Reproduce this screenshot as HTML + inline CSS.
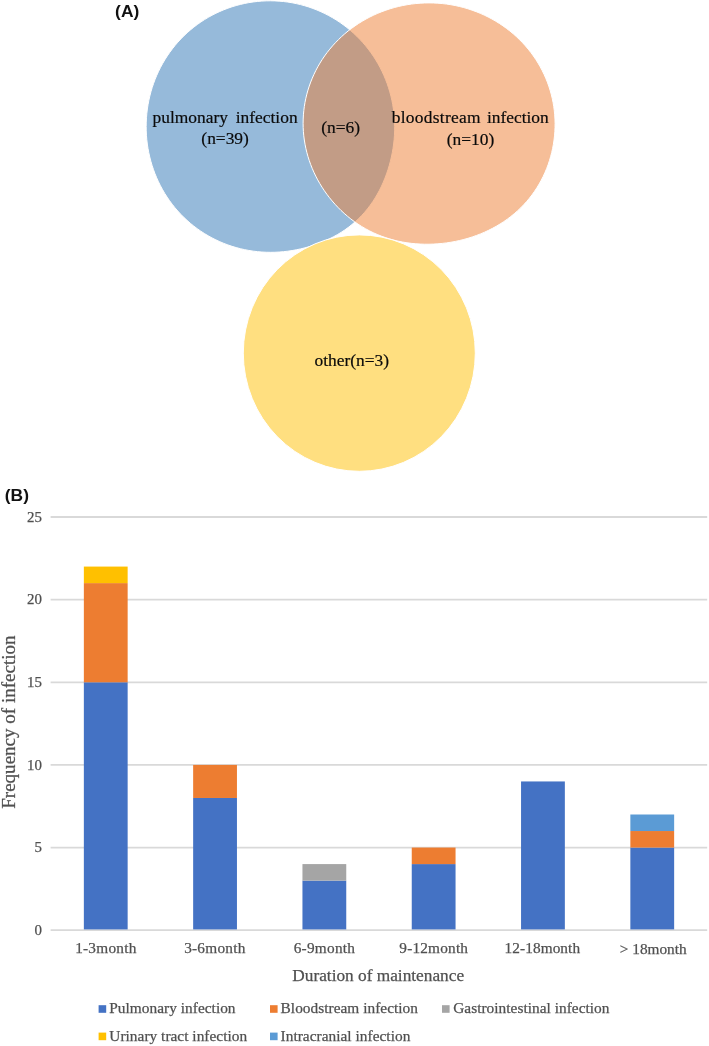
<!DOCTYPE html>
<html lang="en"><head><meta charset="utf-8"><title>Figure</title>
<style>
html,body{margin:0;padding:0;background:#fff;}
svg{display:block;}
text{font-family:"Liberation Serif","Times New Roman",serif;}
.lab{font-family:"Liberation Sans",Arial,sans-serif;font-weight:bold;font-size:17.4px;fill:#111;}
.venn{font-size:17.4px;fill:#0a0a0a;stroke:#0a0a0a;stroke-width:0.2px;word-spacing:3.5px;}
.tick{font-size:15.3px;fill:#505050;stroke:#505050;stroke-width:0.25px;}
.cat{letter-spacing:0.25px;}
.leg{font-size:15.35px;fill:#505050;stroke:#505050;stroke-width:0.25px;letter-spacing:0.03px;}
</style></head><body>
<svg width="709" height="1046" viewBox="0 0 709 1046">
<rect width="709" height="1046" fill="#fff"/>

<path d="M394.68,126.50 L394.63,130.89 L394.44,135.27 L394.11,139.65 L393.63,144.01 L393.02,148.36 L392.27,152.70 L391.39,157.00 L390.38,161.29 L389.23,165.54 L387.94,169.76 L386.53,173.94 L384.98,178.08 L383.29,182.17 L381.47,186.21 L379.50,190.18 L377.39,194.09 L375.13,197.91 L372.73,201.65 L370.17,205.30 L367.47,208.83 L364.63,212.26 L361.64,215.55 L358.51,218.72 L355.25,221.74 L351.87,224.62 L348.38,227.36 L344.77,229.94 L341.08,232.38 L337.29,234.67 L333.43,236.81 L329.51,238.80 L325.52,240.65 L321.48,242.36 L317.39,243.94 L313.25,245.38 L309.09,246.68 L304.88,247.85 L300.65,248.89 L296.39,249.79 L292.11,250.56 L287.82,251.19 L283.50,251.68 L279.17,252.04 L274.84,252.25 L270.50,252.32 L266.16,252.24 L261.83,252.02 L257.50,251.65 L253.19,251.13 L248.90,250.46 L244.64,249.65 L240.40,248.69 L236.19,247.58 L232.03,246.33 L227.91,244.93 L223.84,243.38 L219.82,241.69 L215.87,239.86 L211.98,237.89 L208.16,235.78 L204.41,233.53 L200.75,231.15 L197.17,228.64 L193.68,226.00 L190.29,223.24 L187.00,220.36 L183.81,217.35 L180.73,214.24 L177.76,211.01 L174.91,207.68 L172.18,204.24 L169.57,200.71 L167.09,197.09 L164.73,193.38 L162.52,189.60 L160.43,185.73 L158.48,181.79 L156.67,177.79 L155.00,173.73 L153.47,169.61 L152.08,165.44 L150.84,161.23 L149.74,156.97 L148.79,152.68 L147.98,148.36 L147.32,144.02 L146.81,139.66 L146.45,135.28 L146.23,130.89 L146.16,126.50 L146.24,122.11 L146.47,117.72 L146.85,113.35 L147.37,108.99 L148.04,104.65 L148.86,100.33 L149.82,96.05 L150.93,91.80 L152.18,87.59 L153.58,83.43 L155.11,79.32 L156.79,75.26 L158.61,71.27 L160.57,67.34 L162.66,63.49 L164.88,59.71 L167.24,56.01 L169.72,52.40 L172.33,48.88 L175.06,45.45 L177.91,42.12 L180.87,38.90 L183.95,35.79 L187.13,32.79 L190.41,29.91 L193.80,27.15 L197.28,24.51 L200.85,22.00 L204.51,19.61 L208.24,17.37 L212.05,15.25 L215.93,13.27 L219.88,11.44 L223.89,9.74 L227.95,8.19 L232.06,6.78 L236.22,5.52 L240.42,4.41 L244.65,3.44 L248.92,2.62 L253.21,1.96 L257.51,1.44 L261.83,1.08 L266.16,0.86 L270.50,0.80 L274.83,0.89 L279.16,1.13 L283.48,1.53 L287.78,2.07 L292.06,2.76 L296.31,3.61 L300.53,4.60 L304.71,5.74 L308.86,7.03 L312.95,8.46 L316.99,10.03 L320.98,11.75 L324.91,13.60 L328.76,15.60 L332.55,17.72 L336.27,19.98 L339.90,22.37 L343.45,24.89 L346.90,27.52 L350.27,30.28 L353.54,33.16 L356.71,36.15 L359.77,39.25 L362.72,42.46 L365.57,45.77 L368.29,49.17 L370.90,52.67 L373.38,56.27 L375.74,59.94 L377.97,63.70 L380.07,67.53 L382.04,71.44 L383.87,75.41 L385.56,79.45 L387.12,83.54 L388.53,87.69 L389.80,91.88 L390.92,96.11 L391.90,100.38 L392.73,104.69 L393.41,109.02 L393.95,113.37 L394.34,117.74 L394.58,122.11Z" fill="#2E75B6" fill-opacity="0.5" stroke="#fff" stroke-width="1"/>
<path d="M555.07,123.25 L555.03,127.46 L554.84,131.66 L554.51,135.86 L554.02,140.05 L553.40,144.22 L552.63,148.37 L551.71,152.50 L550.64,156.60 L549.43,160.67 L548.08,164.69 L546.58,168.67 L544.93,172.61 L543.14,176.49 L541.20,180.30 L539.12,184.05 L536.89,187.73 L534.52,191.32 L532.02,194.83 L529.37,198.25 L526.59,201.57 L523.68,204.78 L520.64,207.89 L517.48,210.88 L514.20,213.75 L510.82,216.51 L507.33,219.13 L503.74,221.63 L500.06,224.00 L496.30,226.24 L492.46,228.35 L488.54,230.33 L484.56,232.18 L480.52,233.89 L476.42,235.48 L472.27,236.93 L468.08,238.25 L463.85,239.44 L459.58,240.50 L455.27,241.43 L450.94,242.22 L446.59,242.89 L442.21,243.42 L437.82,243.82 L433.41,244.09 L429.00,244.22 L424.58,244.21 L420.16,244.06 L415.75,243.78 L411.35,243.35 L406.96,242.77 L402.60,242.04 L398.26,241.16 L393.95,240.13 L389.69,238.95 L385.48,237.61 L381.32,236.12 L377.22,234.47 L373.20,232.68 L369.24,230.73 L365.38,228.64 L361.60,226.41 L357.91,224.05 L354.31,221.56 L350.82,218.94 L347.44,216.20 L344.16,213.35 L340.99,210.40 L337.93,207.34 L334.98,204.19 L332.15,200.95 L329.43,197.62 L326.84,194.21 L324.36,190.73 L322.01,187.16 L319.78,183.53 L317.69,179.83 L315.72,176.07 L313.89,172.24 L312.19,168.36 L310.63,164.43 L309.22,160.45 L307.94,156.43 L306.82,152.37 L305.83,148.28 L305.00,144.15 L304.32,140.00 L303.78,135.83 L303.40,131.65 L303.17,127.45 L303.10,123.25 L303.18,119.05 L303.41,114.85 L303.79,110.67 L304.32,106.50 L305.01,102.35 L305.85,98.23 L306.84,94.13 L307.98,90.08 L309.26,86.06 L310.69,82.09 L312.27,78.17 L313.98,74.30 L315.84,70.49 L317.84,66.75 L319.97,63.07 L322.23,59.47 L324.62,55.95 L327.14,52.51 L329.79,49.16 L332.56,45.89 L335.44,42.72 L338.44,39.65 L341.54,36.68 L344.76,33.81 L348.07,31.06 L351.49,28.41 L355.00,25.88 L358.60,23.48 L362.28,21.19 L366.05,19.02 L369.89,16.99 L373.81,15.08 L377.79,13.30 L381.84,11.66 L385.94,10.16 L390.09,8.79 L394.30,7.56 L398.54,6.47 L402.82,5.53 L407.14,4.73 L411.48,4.07 L415.84,3.56 L420.22,3.19 L424.61,2.97 L429.00,2.90 L433.39,2.97 L437.78,3.19 L442.16,3.56 L446.52,4.07 L450.86,4.73 L455.18,5.53 L459.46,6.47 L463.70,7.56 L467.91,8.79 L472.06,10.16 L476.16,11.66 L480.21,13.30 L484.19,15.08 L488.11,16.99 L491.95,19.02 L495.72,21.19 L499.40,23.48 L503.00,25.88 L506.51,28.41 L509.93,31.06 L513.24,33.81 L516.46,36.68 L519.56,39.65 L522.56,42.72 L525.45,45.89 L528.21,49.15 L530.86,52.51 L533.38,55.95 L535.77,59.47 L538.03,63.07 L540.17,66.75 L542.16,70.49 L544.02,74.30 L545.74,78.16 L547.32,82.08 L548.75,86.05 L550.04,90.07 L551.19,94.13 L552.19,98.22 L553.04,102.34 L553.74,106.49 L554.29,110.66 L554.70,114.85 L554.96,119.05Z" fill="#ED7D31" fill-opacity="0.5" stroke="#fff" stroke-width="1"/>
<ellipse cx="359.3" cy="353.1" rx="116" ry="118.2" fill="#FFDF80" stroke="#fff" stroke-width="1"/>
<text class="lab" x="115.1" y="16.9">(A)</text>
<text class="venn" x="225.1" y="123" text-anchor="middle">pulmonary infection</text>
<text class="venn" x="225.1" y="144" text-anchor="middle">(n=39)</text>
<text class="venn" x="340.6" y="133.4" text-anchor="middle">(n=6)</text>
<text class="venn" style="word-spacing:1.6px" x="470.2" y="123" text-anchor="middle"><tspan style="letter-spacing:0.3px">bloodstream</tspan> infection</text>
<text class="venn" x="470.5" y="144.6" text-anchor="middle">(n=10)</text>
<text class="venn" x="351.8" y="366" text-anchor="middle">other(n=3)</text>
<text class="lab" x="4.8" y="500.6">(B)</text>
<line x1="50.6" x2="707.2" y1="930.20" y2="930.20" stroke="#D9D9D9" stroke-width="1.8"/>
<text class="tick" style="font-size:14.9px" x="41.9" y="934.90" text-anchor="end">0</text>
<line x1="50.6" x2="707.2" y1="847.56" y2="847.56" stroke="#D9D9D9" stroke-width="1.8"/>
<text class="tick" style="font-size:14.9px" x="41.9" y="852.26" text-anchor="end">5</text>
<line x1="50.6" x2="707.2" y1="764.92" y2="764.92" stroke="#D9D9D9" stroke-width="1.8"/>
<text class="tick" style="font-size:14.9px" x="41.9" y="769.62" text-anchor="end">10</text>
<line x1="50.6" x2="707.2" y1="682.28" y2="682.28" stroke="#D9D9D9" stroke-width="1.8"/>
<text class="tick" style="font-size:14.9px" x="41.9" y="686.98" text-anchor="end">15</text>
<line x1="50.6" x2="707.2" y1="599.64" y2="599.64" stroke="#D9D9D9" stroke-width="1.8"/>
<text class="tick" style="font-size:14.9px" x="41.9" y="604.34" text-anchor="end">20</text>
<line x1="50.6" x2="707.2" y1="517.00" y2="517.00" stroke="#D9D9D9" stroke-width="1.8"/>
<text class="tick" style="font-size:14.9px" x="41.9" y="521.70" text-anchor="end">25</text>
<rect x="83.85" y="682.28" width="43.8" height="247.12" fill="#4472C4"/>
<rect x="83.85" y="583.11" width="43.8" height="99.17" fill="#ED7D31"/>
<rect x="83.85" y="566.58" width="43.8" height="16.53" fill="#FFC000"/>
<rect x="193.15" y="797.98" width="43.8" height="131.42" fill="#4472C4"/>
<rect x="193.15" y="764.92" width="43.8" height="33.06" fill="#ED7D31"/>
<rect x="302.45" y="880.62" width="43.8" height="48.78" fill="#4472C4"/>
<rect x="302.45" y="864.09" width="43.8" height="16.53" fill="#A5A5A5"/>
<rect x="411.75" y="864.09" width="43.8" height="65.31" fill="#4472C4"/>
<rect x="411.75" y="847.56" width="43.8" height="16.53" fill="#ED7D31"/>
<rect x="521.05" y="781.45" width="43.8" height="147.95" fill="#4472C4"/>
<rect x="630.35" y="847.56" width="43.8" height="81.84" fill="#4472C4"/>
<rect x="630.35" y="831.03" width="43.8" height="16.53" fill="#ED7D31"/>
<rect x="630.35" y="814.50" width="43.8" height="16.53" fill="#5B9BD5"/>
<text class="tick" style="letter-spacing:0.25px" x="105.88" y="953.1" text-anchor="middle">1-3month</text>
<text class="tick" style="letter-spacing:0.25px" x="214.88" y="953.1" text-anchor="middle">3-6month</text>
<text class="tick" style="letter-spacing:0.25px" x="324.48" y="953.1" text-anchor="middle">6-9month</text>
<text class="tick" style="letter-spacing:0.2px" x="433.75" y="953.1" text-anchor="middle">9-12month</text>
<text class="tick" style="letter-spacing:0.08px" x="542.39" y="953.1" text-anchor="middle">12-18month</text>
<text class="tick" style="letter-spacing:0.0px" x="653.25" y="954.2" text-anchor="middle">&gt; 18month</text>
<text x="378.2" y="980.8" text-anchor="middle" font-size="17.3px" fill="#505050" stroke="#505050" stroke-width="0.25">Duration of maintenance</text>
<text transform="translate(15.2,722.1) rotate(-90)" text-anchor="middle" font-size="19.05px" fill="#505050" stroke="#505050" stroke-width="0.25">Frequency of infection</text>
<rect x="98.6" y="1005.2" width="7.6" height="7.6" fill="#4472C4"/>
<text class="leg" x="109.3" y="1012.7">Pulmonary infection</text>
<rect x="270" y="1005.2" width="7.6" height="7.6" fill="#ED7D31"/>
<text class="leg" x="280.6" y="1012.7">Bloodstream infection</text>
<rect x="442" y="1005.2" width="7.6" height="7.6" fill="#A5A5A5"/>
<text class="leg" x="453.2" y="1012.7">Gastrointestinal infection</text>
<rect x="98.6" y="1032.6" width="7.6" height="7.6" fill="#FFC000"/>
<text class="leg" x="109.3" y="1040.6">Urinary tract infection</text>
<rect x="270" y="1032.6" width="7.6" height="7.6" fill="#5B9BD5"/>
<text class="leg" x="280.6" y="1040.6">Intracranial infection</text>
</svg></body></html>
